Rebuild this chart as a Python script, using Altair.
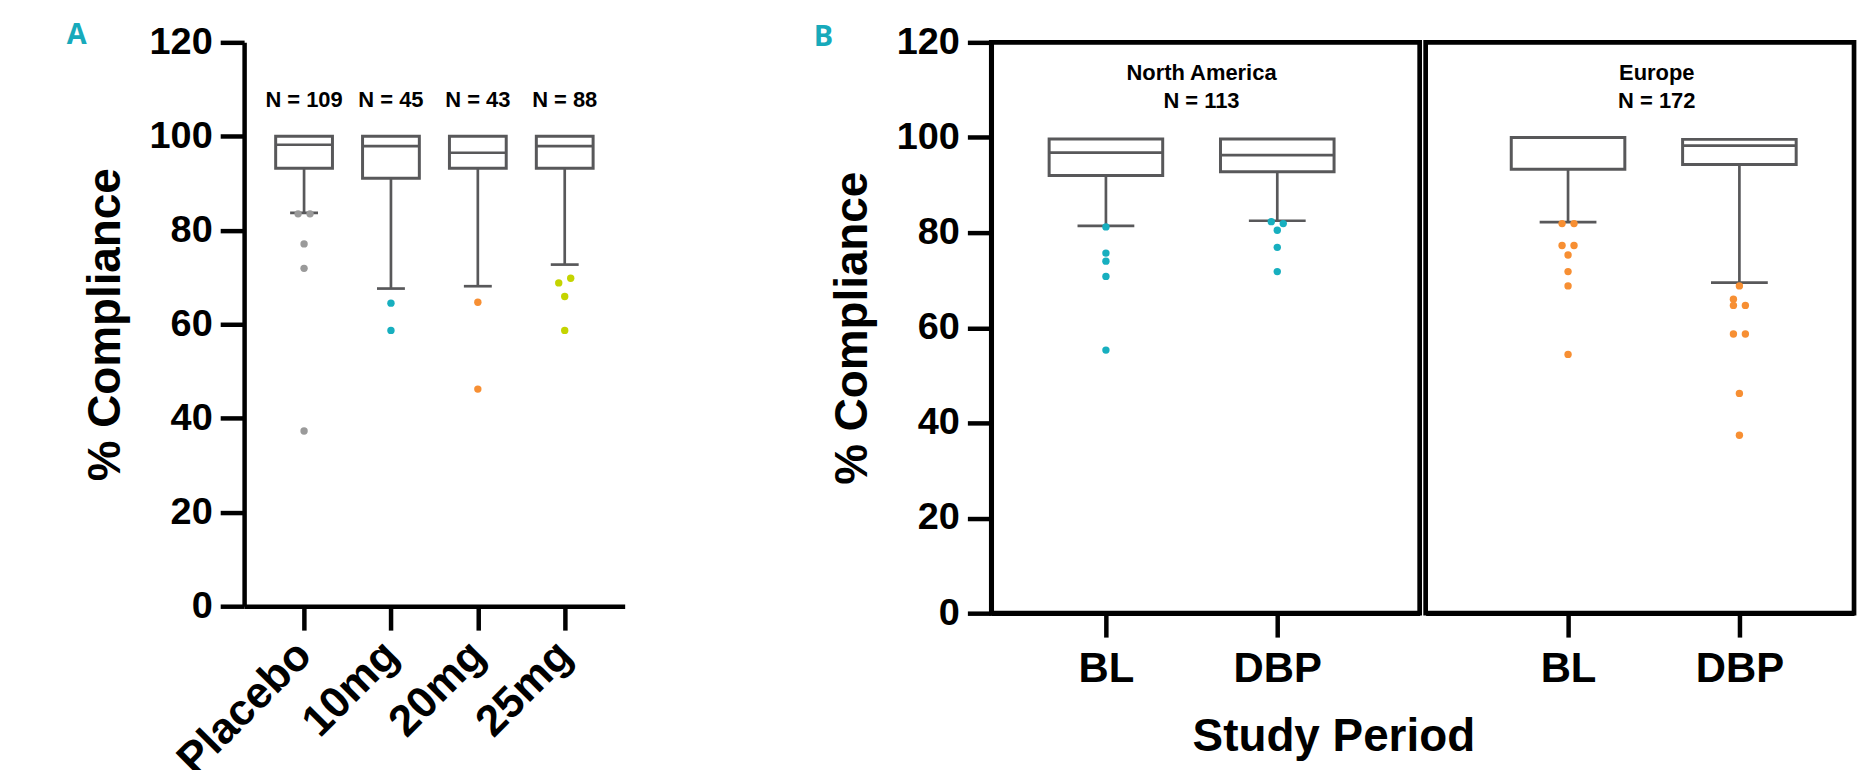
import altair as alt
import pandas as pd

FONT = "Liberation Sans"
BOX = "#58585a"
AXW = 4.5

# ---------------- Panel A data ----------------
a_groups = ["Placebo", "10mg", "20mg", "25mg"]
a_n = ["N = 109", "N = 45", "N = 43", "N = 88"]
a_q3 = [100, 100, 100, 100]
a_median = [98.2, 97.9, 96.5, 97.9]
a_q1 = [93.2, 91.1, 93.2, 93.2]
a_low = [83.7, 67.6, 68.1, 72.7]
a_out_group = ["Placebo"] * 5 + ["10mg"] * 2 + ["20mg"] * 2 + ["25mg"] * 4
a_out_value = [83.5, 83.5, 77.1, 71.9, 37.3, 64.5, 58.7, 64.7, 46.2, 68.8, 69.8, 65.9, 58.7]
a_out_side = [-1, 1, 0, 0, 0, 0, 0, 0, 0, -1, 1, 0, 0]
a_colors = ["#9a9a9a", "#17afbf", "#f78f33", "#c4d400"]

# ---------------- Panel B data ----------------
b_periods = ["BL", "DBP"]
b_titles = ["North America", "Europe"]
b_n = ["N = 113", "N = 172"]
b_colors = ["#17afbf", "#f78f33"]

na_q3 = [99.7, 99.7]
na_median = [96.8, 96.3]
na_q1 = [92.0, 92.8]
na_low = [81.4, 82.5]
na_out_period = ["BL"] * 5 + ["DBP"] * 5
na_out_value = [81.2, 75.7, 74.0, 70.8, 55.3, 82.3, 81.9, 80.5, 76.9, 71.8]
na_out_side = [0, 0, 0, 0, 0, -1, 1, 0, 0, 0]

eu_q3 = [100, 99.6]
eu_median = [100, 98.3]
eu_q1 = [93.3, 94.3]
eu_low = [82.2, 69.5]
eu_out_period = ["BL"] * 8 + ["DBP"] * 8
eu_out_value = [81.9, 81.9, 77.3, 77.3, 75.3, 71.8, 68.8, 54.4,
                68.8, 66.0, 64.7, 64.7, 58.7, 58.7, 46.2, 37.4]
eu_out_side = [-1, 1, -1, 1, 0, 0, 0, 0, 0, -1, -1, 1, -1, 1, 0, 0]

y_ticks = [0, 20, 40, 60, 80, 100, 120]


def make_y_axis():
    return alt.Axis(
        values=y_ticks, title="% Compliance", titleFont=FONT, titleFontSize=46,
        titleFontWeight="bold", titleColor="black", titlePadding=20,
        labelFont=FONT, labelFontSize=38, labelFontWeight="bold", labelColor="black",
        labelPadding=8, labelFlush=False, labelOverlap=False,
        tickSize=24, tickWidth=AXW, tickColor="black",
        domainWidth=AXW, domainColor="black", grid=False,
    )


def box_panel(groups, q3, med, q1, low, out_g, out_v, out_side, color_enc,
              xscale, xaxis, yaxis, box_w, cap_w):
    stats = pd.DataFrame({"g": groups, "q3": q3, "med": med, "q1": q1, "low": low})
    outs = pd.DataFrame({"g": out_g, "v": out_v, "side": out_side})
    X = alt.X("g:N", scale=xscale, axis=xaxis, title=None)

    def Y(field):
        return alt.Y(f"{field}:Q", scale=alt.Scale(domain=[0, 120], nice=False, zero=True),
                     axis=yaxis, title="% Compliance" if yaxis is not None else None)

    whisk = alt.Chart(stats).mark_rule(color=BOX, strokeWidth=2.7).encode(
        x=X, y=Y("low"), y2="q1")
    cap = alt.Chart(stats).mark_tick(color=BOX, thickness=2.7, size=cap_w, opacity=1).encode(
        x=X, y=Y("low"))
    box = alt.Chart(stats).mark_bar(fill="white", stroke=BOX, strokeWidth=3, size=box_w).encode(
        x=X, y=Y("q1"), y2="q3")
    median = alt.Chart(stats).mark_tick(color=BOX, thickness=2.7, size=box_w, opacity=1).encode(
        x=X, y=Y("med"))
    dots = alt.Chart(outs).mark_circle(size=55, opacity=1).encode(
        x=X,
        xOffset=alt.XOffset("side:Q", scale=alt.Scale(domain=[-1, 1], range=[-6, 6])),
        y=Y("v"),
        color=color_enc,
    )
    return [whisk, cap, box, median, dots]


no_frame = alt.ViewBackground(stroke="transparent", strokeWidth=0)
frame = alt.ViewBackground(stroke="black", strokeWidth=4.7)

# ---------------- Panel A ----------------
xA_scale = alt.Scale(type="point", domain=a_groups, padding=0.69)
xA_axis = alt.Axis(
    labelAngle=-45, labelAlign="right", labelBaseline="middle", labelPadding=18,
    labelFont=FONT, labelFontSize=44, labelFontWeight="bold", labelColor="black",
    labelOverlap=False, tickSize=24, tickWidth=AXW, tickColor="black",
    domainWidth=AXW, domainColor="black", title=None,
)
a_layers = box_panel(
    a_groups, a_q3, a_median, a_q1, a_low, a_out_group, a_out_value, a_out_side,
    alt.Color("g:N", scale=alt.Scale(domain=a_groups, range=a_colors), legend=None),
    xA_scale, xA_axis, make_y_axis(), 57, 28,
)
a_ntext = alt.Chart(pd.DataFrame({"g": a_groups, "n": a_n})).mark_text(
    font=FONT, fontSize=22, fontWeight="bold", color="black", baseline="alphabetic"
).encode(x=alt.X("g:N", scale=xA_scale, axis=xA_axis, title=None), y=alt.value(65), text="n:N")
a_letter = alt.Chart(pd.DataFrame({"t": ["A"]})).mark_text(
    font="Open Sans", fontSize=29, fontWeight="bold", color="#17aabb", baseline="middle"
).encode(x=alt.value(-168), y=alt.value(-7), text="t:N")

panelA = alt.layer(*a_layers, a_ntext, a_letter).properties(
    width=382, height=566, view=no_frame)


# ---------------- Panel B ----------------
def b_xaxis():
    return alt.Axis(
        labelAngle=0, labelPadding=12, labelFont=FONT, labelFontSize=42,
        labelFontWeight="bold", labelColor="black", tickSize=24, tickWidth=AXW,
        tickColor="black", domainWidth=AXW, domainColor="black", title=None,
    )


na_scale = alt.Scale(type="point", domain=b_periods, padding=0.75, align=0.446)
na_layers = box_panel(
    b_periods, na_q3, na_median, na_q1, na_low, na_out_period, na_out_value, na_out_side,
    alt.value(b_colors[0]), na_scale, b_xaxis(), make_y_axis(), 114, 57,
)
na_label = alt.Chart(pd.DataFrame({"t": [b_titles[0] + "\n" + b_n[0]]})).mark_text(
    font=FONT, fontSize=22, fontWeight="bold", color="black", baseline="alphabetic",
    lineBreak="\n", lineHeight=28,
).encode(x=alt.value(211), y=alt.value(38), text="t:N")
b_letter = alt.Chart(pd.DataFrame({"t": ["B"]})).mark_text(
    font="Open Sans", fontSize=29, fontWeight="bold", color="#17aabb", baseline="middle"
).encode(x=alt.value(-168.5), y=alt.value(-5), text="t:N")
panelNA = alt.layer(*na_layers, na_label, b_letter).properties(width=430, height=573, view=frame)

eu_scale = alt.Scale(type="point", domain=b_periods, padding=0.75, align=0.554)
eu_layers = box_panel(
    b_periods, eu_q3, eu_median, eu_q1, eu_low, eu_out_period, eu_out_value, eu_out_side,
    alt.value(b_colors[1]), eu_scale, b_xaxis(), None, 114, 57,
)
eu_label = alt.Chart(pd.DataFrame({"t": [b_titles[1] + "\n" + b_n[1]]})).mark_text(
    font=FONT, fontSize=22, fontWeight="bold", color="black", baseline="alphabetic",
    lineBreak="\n", lineHeight=28,
).encode(x=alt.value(232), y=alt.value(38), text="t:N")
panelEU = alt.layer(*eu_layers, eu_label).properties(width=430, height=573, view=frame)

panelB = alt.hconcat(panelNA, panelEU, spacing=0).properties(
    title=alt.TitleParams(
        "Study Period", orient="bottom", anchor="middle", font=FONT, fontSize=46,
        fontWeight="bold", color="black", offset=23,
    )
)

chart = alt.hconcat(panelA, panelB, spacing=187).properties(
    padding={"left": 58, "top": 11, "right": 5, "bottom": 0}
).configure_view(stroke="transparent").configure(background="white")

chart.save("out.html", embed_options={"renderer": "svg", "actions": False})
